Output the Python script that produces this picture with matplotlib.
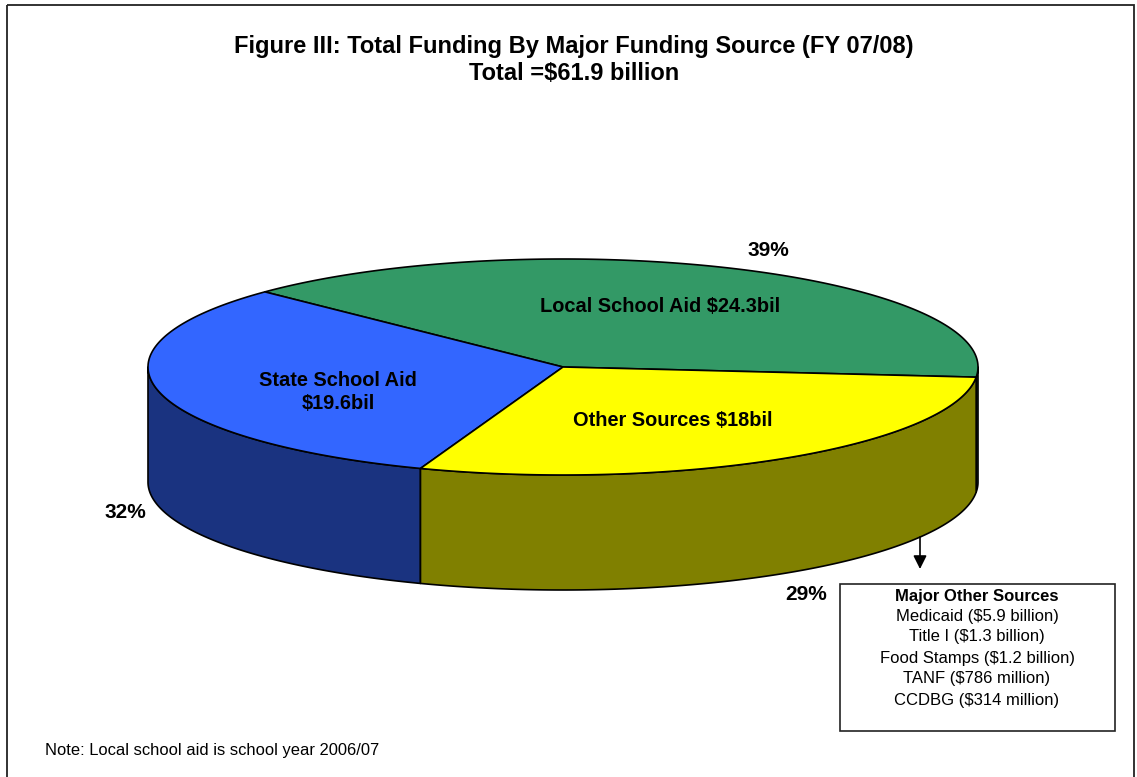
import numpy as np
import matplotlib
matplotlib.use("Agg")
import matplotlib.pyplot as plt
from matplotlib.patches import Polygon, Rectangle

plt.rcParams['font.family'] = ['Liberation Sans', 'DejaVu Sans']

# Funding sources (billions of dollars), in drawing order
sources = ["Local School Aid", "State School Aid", "Other Sources"]
amounts = [24.3, 19.6, 18.0]
slice_labels = ["Local School Aid $24.3bil", "State School Aid\n$19.6bil", "Other Sources $18bil"]
pct_labels = ["39%", "32%", "29%"]
top_colors = ["#339966", "#3366FF", "#FFFF00"]
side_colors = ["#1A4D33", "#1A3380", "#808000"]

other_title = "Major Other Sources"
other_items = ["Medicaid ($5.9 billion)", "Title I ($1.3 billion)", "Food Stamps ($1.2 billion)",
               "TANF ($786 million)", "CCDBG ($314 million)"]

title_lines = ["Figure III: Total Funding By Major Funding Source (FY 07/08)",
               "Total =$61.9 billion"]
note = "Note: Local school aid is school year 2006/07"

W, H = 1137, 777
fig = plt.figure(figsize=(W / 100, H / 100), dpi=100)
ax = fig.add_axes([0, 0, 1, 1])
ax.set_xlim(0, W)
ax.set_ylim(H, 0)
ax.axis("off")

# Frame around the chart area
ax.add_patch(Rectangle((7, 5), 1127, 800, fill=False, edgecolor="#222222", lw=1.3, zorder=0))

# Pie geometry (tilted disc)
cx, cy = 563, 367
a, b = 415, 108
depth = 115
start = -5.4

total = sum(amounts)
spans = [v / total * 360 for v in amounts]
bounds = np.concatenate([[start], start + np.cumsum(spans)])


def rim(t_deg):
    t = np.radians(t_deg)
    return cx + a * np.cos(t), cy - b * np.sin(t)


def arc(t0, t1, n=200):
    ts = np.linspace(t0, t1, n)
    x, y = rim(ts)
    return np.column_stack([x, y])


# Side walls (only the front half of the rim is visible)
for i in range(len(amounts)):
    t0, t1 = bounds[i], bounds[i + 1]
    for lo, hi in [(-180, 0), (180, 360)]:
        s0, s1 = max(t0, lo), min(t1, hi)
        if s1 > s0:
            top = arc(s0, s1)
            bot = top[::-1].copy()
            bot[:, 1] += depth
            ax.add_patch(Polygon(np.vstack([top, bot]), closed=True,
                                 facecolor=side_colors[i], edgecolor="black",
                                 lw=1.2, joinstyle="round", zorder=1))

# Top faces
for i in range(len(amounts)):
    pts = np.vstack([[[cx, cy]], arc(bounds[i], bounds[i + 1])])
    ax.add_patch(Polygon(pts, closed=True, facecolor=top_colors[i], edgecolor="black",
                         lw=1.2, joinstyle="round", zorder=2))

# Labels on the slices
label_pos = [(660, 306), (338, 392), (673, 420)]
for (x, y), txt in zip(label_pos, slice_labels):
    ax.text(x, y, txt, ha="center", va="center", fontsize=14.4, fontweight="bold",
            linespacing=1.3, zorder=5)

pct_pos = [(768, 250), (125, 512), (806, 594)]
for (x, y), txt in zip(pct_pos, pct_labels):
    ax.text(x, y, txt, ha="center", va="center", fontsize=15, fontweight="bold", zorder=5)

# Title
ax.text(574, 53, title_lines[0], ha="center", va="baseline", fontsize=17, fontweight="bold")
ax.text(574, 80, title_lines[1], ha="center", va="baseline", fontsize=17, fontweight="bold")

# Breakdown of other sources
ax.add_patch(Rectangle((840, 584), 275, 147, fill=False, edgecolor="#222222", lw=1.2, zorder=3))
bx = 977
ax.text(bx, 596, other_title, ha="center", va="center", fontsize=12, fontweight="bold", zorder=4)
for k, item in enumerate(other_items):
    ax.text(bx, 616 + 21 * k, item, ha="center", va="center", fontsize=12, zorder=4)

ax.annotate("", xy=(920, 569), xytext=(920, 537),
            arrowprops=dict(arrowstyle="-|>,head_length=0.5,head_width=0.25", color="black",
                            lw=1.2, mutation_scale=16, shrinkA=0, shrinkB=0), zorder=4)

ax.text(45, 750, note, ha="left", va="center", fontsize=11.9)

fig.savefig("out.png", dpi=100)
